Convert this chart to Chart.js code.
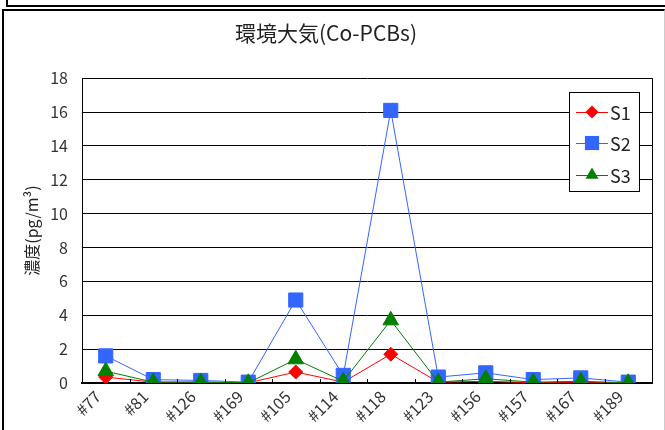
<!DOCTYPE html>
<html>
<head>
<meta charset="utf-8">
<script src="https://cdn.jsdelivr.net/npm/chart.js"></script>
<style>
  html, body { margin: 0; padding: 0; background: #fff; }
  body { width: 665px; height: 430px; position: relative; overflow: hidden; }
  #topStrip { position: absolute; left: 6px; top: -10px; width: 700px; height: 13px; border: 2px solid #000; }
  #frame { position: absolute; left: 2px; top: 9px; width: 660px; height: 440px; border-left: 2px solid #000; border-top: 2px solid #000; border-right: 1px solid #ccc; }
  #chartWrap { position: absolute; left: 0; top: 0; width: 665px; height: 430px; }
</style>
</head>
<body>
<div id="topStrip"></div>
<div id="frame"></div>
<div id="chartWrap"><canvas id="pcbChart" width="665" height="430"></canvas></div>
<script>
const congeners = ['#77', '#81', '#126', '#169', '#105', '#114', '#118', '#123', '#156', '#157', '#167', '#189'];
const s1Values = [0.35, 0.05, 0.05, 0.01, 0.65, 0.05, 1.7, 0.05, 0.1, 0.02, 0.05, 0.01];
const s2Values = [1.6, 0.2, 0.15, 0.05, 4.9, 0.45, 16.1, 0.35, 0.6, 0.2, 0.3, 0.05];
const s3Values = [0.7, 0.05, 0.05, 0.01, 1.4, 0.1, 3.7, 0.05, 0.25, 0.05, 0.1, 0.01];
const seriesNames = ['S1', 'S2', 'S3'];
const yTicks = [0, 2, 4, 6, 8, 10, 12, 14, 16, 18];

const jpFont = '"Noto Sans CJK JP", "Noto Sans", sans-serif';

const drawMarker = (ctx, style, x, y, r, color) => {
  ctx.save();
  ctx.fillStyle = color;
  ctx.beginPath();
  if (style === 'rectRot') {
    ctx.moveTo(x - r, y);
    ctx.lineTo(x, y - r);
    ctx.lineTo(x + r, y);
    ctx.lineTo(x, y + r);
  } else if (style === 'rect') {
    const s = r * Math.SQRT1_2;
    ctx.rect(x - s, y - s, 2 * s, 2 * s);
  } else {
    ctx.moveTo(x, y - r);
    ctx.lineTo(x + r * 0.866, y + r * 0.5);
    ctx.lineTo(x - r * 0.866, y + r * 0.5);
  }
  ctx.closePath();
  ctx.fill();
  ctx.restore();
};

// plot box right edge, inward category ticks, boxed legend
const framePlugin = {
  id: 'framePlugin',
  afterDraw(chart) {
    const { ctx, chartArea, scales } = chart;
    ctx.save();
    ctx.strokeStyle = '#000';
    ctx.lineWidth = 1;
    ctx.beginPath();
    ctx.moveTo(chartArea.right + 0.5, chartArea.top);
    ctx.lineTo(chartArea.right + 0.5, chartArea.bottom);
    for (let i = 1; i < congeners.length; i++) {
      const x = Math.round(scales.x.getPixelForValue(i - 0.5)) + 0.5;
      ctx.moveTo(x, chartArea.bottom);
      ctx.lineTo(x, chartArea.bottom - 4);
    }
    ctx.stroke();

    const box = { left: 569, top: 92, width: 70, height: 99 };
    ctx.fillStyle = '#fff';
    ctx.fillRect(box.left, box.top, box.width, box.height);
    ctx.strokeRect(box.left + 0.5, box.top + 0.5, box.width, box.height);
    const rowY = [112, 143, 175];
    const markerR = [6.5, 10, 7.5];
    chart.data.datasets.forEach((ds, i) => {
      const y = rowY[i];
      ctx.strokeStyle = ds.borderColor;
      ctx.lineWidth = 1;
      ctx.beginPath();
      ctx.moveTo(576, y + 0.5);
      ctx.lineTo(608, y + 0.5);
      ctx.stroke();
      drawMarker(ctx, ds.pointStyle, 592, y, markerR[i], ds.backgroundColor);
      ctx.fillStyle = '#222';
      ctx.font = '18px ' + jpFont;
      ctx.textBaseline = 'middle';
      ctx.textAlign = 'left';
      ctx.fillText(ds.label, 610, y + 1);
    });
    ctx.restore();
  },
};

const ctx = document.getElementById('pcbChart').getContext('2d');
new Chart(ctx, {
  type: 'line',
  data: {
    labels: congeners,
    datasets: [
      {
        label: seriesNames[0],
        data: s1Values,
        borderColor: '#ff0000',
        backgroundColor: '#ff0000',
        pointStyle: 'rectRot',
        pointRadius: 7,
        borderWidth: 1,
        order: 2,
      },
      {
        label: seriesNames[1],
        data: s2Values,
        borderColor: '#3366ff',
        backgroundColor: '#3366ff',
        pointStyle: 'rect',
        pointRadius: 10,
        borderWidth: 1,
        order: 1,
      },
      {
        label: seriesNames[2],
        data: s3Values,
        borderColor: '#008000',
        backgroundColor: '#008000',
        pointStyle: 'triangle',
        pointRadius: 9,
        borderWidth: 1,
        order: 0,
      },
    ],
  },
  options: {
    responsive: false,
    animation: false,
    layout: { padding: { left: 0, right: 13, top: 0, bottom: 0 } },
    plugins: {
      legend: { display: false },
      tooltip: { enabled: false },
      title: {
        display: true,
        text: '環境大気(Co-PCBs)',
        color: '#222',
        font: { family: jpFont, size: 21, weight: 'normal', lineHeight: 1.2 },
        padding: { top: 20, bottom: 33 },
      },
    },
    scales: {
      x: {
        offset: true,
        grid: { display: false, drawTicks: false },
        border: { display: true, color: '#000', width: 2 },
        ticks: {
          color: '#333',
          font: { family: jpFont, size: 16 },
          minRotation: 45,
          maxRotation: 45,
          padding: 4,
          labelOffset: -8,
        },
        afterFit: (scale) => { scale.height = 47; },
      },
      y: {
        min: 0,
        max: 18,
        afterBuildTicks: (scale) => { scale.ticks = yTicks.map((v) => ({ value: v })); },
        grid: { color: '#000', lineWidth: 1, drawTicks: false },
        border: { display: true, color: '#000', width: 1 },
        ticks: {
          color: '#333',
          font: { family: jpFont, size: 16 },
          padding: 14,
        },
        title: {
          display: true,
          text: '濃度(pg/m³)',
          color: '#222',
          font: { family: jpFont, size: 16 },
          padding: { top: 22, bottom: 0 },
        },
        afterFit: (scale) => { scale.width = 82; },
      },
    },
  },
  plugins: [framePlugin],
});
</script>
</body>
</html>
